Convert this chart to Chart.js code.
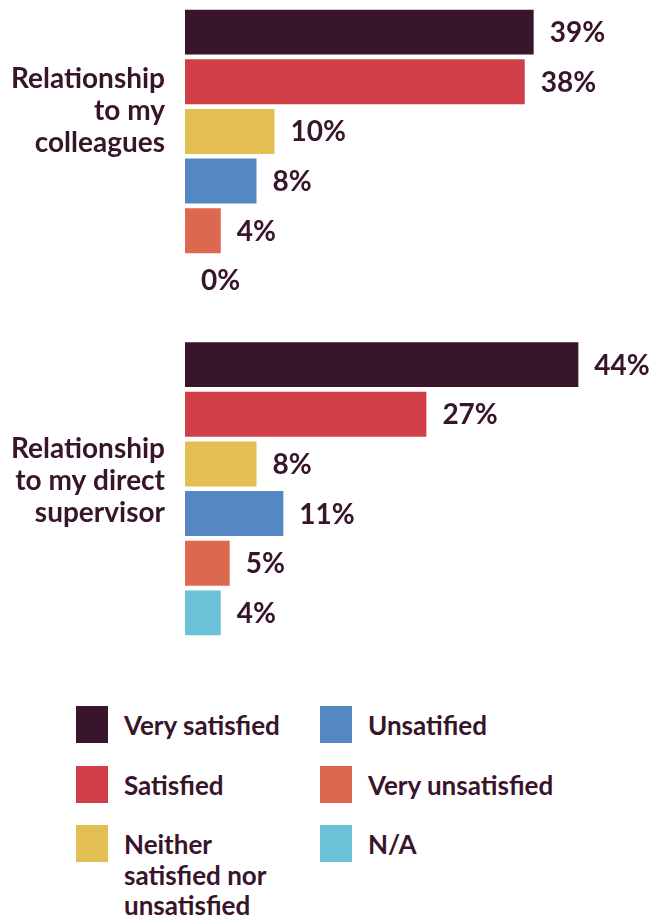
<!DOCTYPE html>
<html>
<head>
<meta charset="utf-8">
<script src="https://cdn.jsdelivr.net/npm/chart.js@4.4.1/dist/chart.umd.min.js"></script>
<style>
  html, body { margin: 0; padding: 0; background: #fff; }
  body { width: 657px; height: 922px; position: relative; overflow: hidden; font-family: Lato, "Open Sans", sans-serif; color: #38152b; }
  #chart-wrap { position: absolute; left: 0; top: -10px; width: 657px; height: 665px; }
  #legend { position: absolute; left: 76px; top: 706px; width: 581px; }
  .item { position: absolute; display: flex; align-items: flex-start; }
  .swatch { width: 32px; height: 37px; flex: none; }
  .item span { margin-left: 16px; font-weight: 700; font-size: 26px; line-height: 30.5px; margin-top: 4px; }
</style>
</head>
<body>
<div id="chart-wrap"><canvas id="chart"></canvas></div>
<div id="legend"></div>
<script>
// ── data ──
const groups = ["Relationship to my colleagues", "Relationship to my direct supervisor"];
const groupLines = [["Relationship", "to my", "colleagues"], ["Relationship", "to my direct", "supervisor"]];
const answers = ["Very satisfied", "Satisfied", "Neither satisfied nor unsatisfied", "Unsatified", "Very unsatisfied", "N/A"];
const legendLines = [["Very satisfied"], ["Satisfied"], ["Neither", "satisfied nor", "unsatisfied"], ["Unsatified"], ["Very unsatisfied"], ["N/A"]];
const colleagues = [39, 38, 10, 8, 4, 0];
const supervisor = [44, 27, 8, 11, 5, 4];
const colors = ["#38152b", "#d03f47", "#e3be52", "#5587c3", "#dc6850", "#6bc2d8"];

const TEXT = "#38152b";
const FONT = "700 28px Lato, 'Open Sans', sans-serif";

// value at the end of each bar
const valueLabels = {
  id: "valueLabels",
  afterDatasetsDraw(chart) {
    const ctx = chart.ctx;
    ctx.save();
    ctx.font = FONT;
    ctx.fillStyle = TEXT;
    ctx.textAlign = "left";
    ctx.textBaseline = "middle";
    chart.data.datasets.forEach((ds, di) => {
      chart.getDatasetMeta(di).data.forEach((bar, i) => {
        ctx.fillText(ds.data[i] + "%", bar.x + 16, bar.y + 1);
      });
    });
    ctx.restore();
  },
};

// group names, right aligned left of the bars
const groupLabels = {
  id: "groupLabels",
  afterDraw(chart, args, opts) {
    const ctx = chart.ctx;
    const y = chart.scales.y;
    ctx.save();
    ctx.font = FONT;
    ctx.fillStyle = TEXT;
    ctx.textAlign = "right";
    ctx.textBaseline = "middle";
    groupLines.forEach((lines, gi) => {
      const cy = y.getPixelForValue(gi) + opts.nudge[gi];
      lines.forEach((t, li) => {
        ctx.fillText(t, chart.chartArea.left - 20, cy + (li - (lines.length - 1) / 2) * opts.lineHeight);
      });
    });
    ctx.restore();
  },
};

new Chart(document.getElementById("chart"), {
  type: "bar",
  data: {
    labels: groups,
    datasets: answers.map((a, i) => ({
      label: a,
      data: [colleagues[i], supervisor[i]],
      backgroundColor: colors[i],
      borderWidth: 0,
      categoryPercentage: 0.896,
      barPercentage: 0.905,
    })),
  },
  options: {
    indexAxis: "y",
    responsive: true,
    maintainAspectRatio: false,
    animation: false,
    layout: { padding: { left: 185, right: 25, top: 0, bottom: 0 } },
    plugins: {
      legend: { display: false },
      tooltip: { enabled: false },
      groupLabels: { nudge: [-45, -8], lineHeight: 32 },
    },
    scales: {
      x: { display: false, min: 0, max: 50 },
      y: { display: false },
    },
  },
  plugins: [valueLabels, groupLabels],
});

// two column legend, filled column by column
const legend = document.getElementById("legend");
answers.forEach((a, i) => {
  const col = Math.floor(i / 3), row = i % 3;
  const item = document.createElement("div");
  item.className = "item";
  item.style.left = col * 244 + "px";
  item.style.top = row * 59.5 + "px";
  const sw = document.createElement("div");
  sw.className = "swatch";
  sw.style.background = colors[i];
  const label = document.createElement("span");
  label.innerHTML = legendLines[i].join("<br>");
  item.appendChild(sw);
  item.appendChild(label);
  legend.appendChild(item);
});
</script>
</body>
</html>
